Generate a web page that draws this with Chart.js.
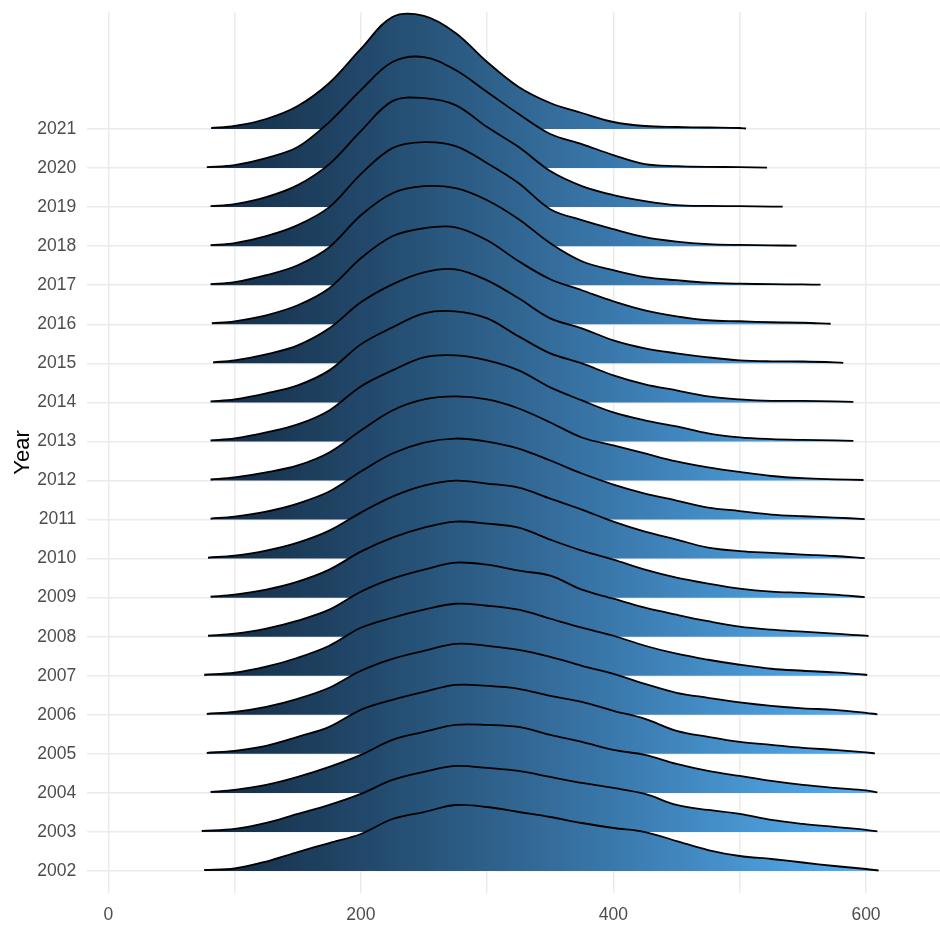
<!DOCTYPE html>
<html>
<head>
<meta charset="utf-8">
<script src="https://cdn.jsdelivr.net/npm/chart.js@4.4.1/dist/chart.umd.min.js"></script>
<style>
html, body { margin: 0; padding: 0; background: #ffffff; }
#wrap { width: 940px; height: 928px; }
</style>
</head>
<body>
<div id="wrap"><canvas id="c" width="940" height="928"></canvas></div>
<script>
// ---------------- data ----------------
const years = [2002,2003,2004,2005,2006,2007,2008,2009,2010,2011,2012,2013,2014,2015,2016,2017,2018,2019,2020,2021];
// common evaluation grid for the ridge heights
const xGrid = [100,125,150,175,200,225,250,275,300,325,350,375,400,425,450,475,500,525,550,575,600];
// first and last value of each year's distribution (2002 .. 2021)
const starts = [76,74,81,78,78,76,79,81,79,81,81,81,81,83,82,81,81,81,78,81.5];
const ends   = [610,609,609,607,609,601,602,599,599,599,598,590,590,582,572,564,545,534,521.6,505];
// ridge heights (relative density) at xGrid, per year
const d2002 = [2.5,9.5,19,28,37,52,59,66,64,59,54,48,43,39,30,21,15,12,8.5,5,2];
const d2003 = [3,9,18,27,38,52,60,66,64,61,55,49,44,38,27,22,18,12,8,5,2];
const d2004 = [3,8,16,26,38,53,61,68,68,66,58,51,43,38,29,22,17,12,8,5,2.5];
const d2005 = [3,8,17,27,44,54,62,69,68,65,58,52,43,35,23,17,12,9,6,4,1.5];
const d2006 = [3,8,16,27,44,56,64,71,69,65,58,49,41,31,22,17,12.5,9,6.5,5,2];
const d2007 = [3,9,18,30,48,58,66,72,70,66,57,48,40,30,22,16,11,7,5,3.3,1];
const d2008 = [3,8,16,27,45,58,67,74,72,66,61,47,38,29,22,15.5,10,7,5,3,1];
const d2009 = [3,8,16,28,46,60,70,76,74,70,58,47,38,28,20,14,9,6,4.7,3];
const d2010 = [3,8,16,28,46,62,73,78,75,71,60,49,37,27,19,11,7.5,5.7,4,2.6];
const d2011 = [3,8,16,28,48,66,77,81,78,71,59,46,35,26,19,12,8.5,5,3.3,2];
const d2012 = [3,8,15,28,50,70,81,84,81,72,58,43,35,27,19,13,8.5,4.5,2.3,1.2];
const d2013 = [3,9,17,31,55,71,84,86,81,71,54,41,29,21,15,8,4,2.3,1.5,1];
const d2014 = [3,9,17,32,58,75,89,91,84,66,49,39,27,18,12,6,3,1.5,1.5,1];
const d2015 = [3,9,18,35,61,79,91,94,83,65,45,35,23,15,10,6,3,2,1.8,1];
const d2016 = [3,9,19,36,66,88,96,97,84,63,45,34,23,14,8,4,3,2,1.5];
const d2017 = [3,10,20,38,70,92,99,97,85,66,42,24,15,8,5,2.5,1.5,1,0.8];
const d2018 = [3,10,21,39,72,98,104,100,83,63,37,26,17,9,4.5,2,1.2,0.8];
const d2019 = [3,10,22,43,76,106,109,102,80,60,36,21,12,6,2,1.2,1,0.5];
const d2020 = [3,10,21,46,78,106,111,98,76,54,34,24,13,4,2,1.2,1];
const d2021 = [3,10,23,46,80,112,113,96,67,42,26,16,7,3,2,1.5,1];
const densities = [d2002,d2003,d2004,d2005,d2006,d2007,d2008,d2009,d2010,d2011,d2012,d2013,d2014,d2015,d2016,d2017,d2018,d2019,d2020,d2021];
const tailDensity = [1, 0.5]; // density at the first / last value
const xTicks = [0,100,200,300,400,500,600];
const xLabelStep = 200;

// ---------------- styling ----------------
const ridgeScale = 1 / 39.05;        // rows per density unit
const lowColor = '#132B43', highColor = '#56B1F7';
const fillMin = Math.min(...starts), fillMax = Math.max(...ends);

function hexToRgb(h) { h = h.replace('#',''); return [0,2,4].map(i => parseInt(h.substr(i,2),16)); }
function toLin(c) { c /= 255; return c <= 0.04045 ? c / 12.92 : Math.pow((c + 0.055) / 1.055, 2.4); }
function toSrgb(c) { const v = c <= 0.0031308 ? 12.92 * c : 1.055 * Math.pow(c, 1/2.4) - 0.055; return Math.round(Math.max(0, Math.min(1, v)) * 255); }
function rgbToLab(rgb) {
  const [r,g,b] = rgb.map(toLin);
  const X = (0.4124*r + 0.3576*g + 0.1805*b) / 0.95047;
  const Y = (0.2126*r + 0.7152*g + 0.0722*b);
  const Z = (0.0193*r + 0.1192*g + 0.9505*b) / 1.08883;
  const f = t => t > 0.008856 ? Math.cbrt(t) : 7.787*t + 16/116;
  const fx = f(X), fy = f(Y), fz = f(Z);
  return [116*fy - 16, 500*(fx - fy), 200*(fy - fz)];
}
function labToRgb(lab) {
  const [L,a,b] = lab;
  const fy = (L + 16) / 116, fx = fy + a / 500, fz = fy - b / 200;
  const fi = t => t*t*t > 0.008856 ? t*t*t : (t - 16/116) / 7.787;
  const X = fi(fx) * 0.95047, Y = fi(fy), Z = fi(fz) * 1.08883;
  const r =  3.2406*X - 1.5372*Y - 0.4986*Z;
  const g = -0.9689*X + 1.8758*Y + 0.0415*Z;
  const bb = 0.0557*X - 0.2040*Y + 1.0570*Z;
  return 'rgb(' + toSrgb(r) + ',' + toSrgb(g) + ',' + toSrgb(bb) + ')';
}
const labLow = rgbToLab(hexToRgb(lowColor)), labHigh = rgbToLab(hexToRgb(highColor));
function mixLab(t) { return labToRgb(labLow.map((v,i) => v + (labHigh[i] - v) * t)); }

let gradCache = null, gradKey = '';
function ridgeFill(context) {
  const chart = context.chart;
  const area = chart.chartArea;
  if (!area) return mixLab(0.5);
  const xs = chart.scales.x;
  const x0 = xs.getPixelForValue(fillMin), x1 = xs.getPixelForValue(fillMax);
  const key = x0 + ':' + x1;
  if (gradCache && gradKey === key) return gradCache;
  const g = chart.ctx.createLinearGradient(x0, 0, x1, 0);
  const n = 24;
  for (let k = 0; k <= n; k++) g.addColorStop(k / n, mixLab(k / n));
  gradCache = g; gradKey = key;
  return g;
}

function ridgePoints(i) {
  const yr = years[i], s = starts[i], e = ends[i], d = densities[i];
  const pts = [{x: s, y: yr + tailDensity[0] * ridgeScale}];
  xGrid.forEach((gx, j) => {
    if (gx > s && gx < e && d[j] !== undefined) pts.push({x: gx, y: yr + d[j] * ridgeScale});
  });
  pts.push({x: e, y: yr + tailDensity[1] * ridgeScale});
  return pts;
}

const datasets = years.map((yr, i) => ({
  label: String(yr),
  data: ridgePoints(i),
  borderColor: '#000000',
  borderWidth: 1.8,
  borderJoinStyle: 'round',
  pointRadius: 0,
  pointHoverRadius: 0,
  tension: 0.35,
  fill: { value: yr },
  backgroundColor: ridgeFill
}));

const FONT = "'Liberation Sans', Arial, 'DejaVu Sans', sans-serif";
const gridColor = '#ebebeb';

new Chart(document.getElementById('c'), {
  type: 'line',
  data: { datasets },
  options: {
    responsive: false,
    animation: false,
    events: [],
    layout: { padding: { top: 12, right: 0, bottom: 0, left: 0 } },
    plugins: { legend: { display: false }, tooltip: { enabled: false }, filler: { propagate: false } },
    scales: {
      x: {
        type: 'linear',
        min: -16.6,
        max: 658.6,
        afterBuildTicks: axis => { axis.ticks = xTicks.map(v => ({ value: v })); },
        afterFit: axis => { axis.height = 35; axis.paddingLeft = 0; axis.paddingRight = 0; },
        ticks: {
          callback: v => (v % xLabelStep === 0 ? String(v) : ''),
          color: '#4d4d4d',
          font: { family: FONT, size: 17.5 },
          padding: 11.5,
          maxRotation: 0,
          autoSkip: false
        },
        grid: { color: gridColor, lineWidth: 1.5, drawTicks: false },
        border: { display: false }
      },
      y: {
        type: 'linear',
        min: 2001.437,
        max: 2023.996,
        afterBuildTicks: axis => { axis.ticks = years.map(v => ({ value: v })); },
        afterFit: axis => { axis.width = 87.3; axis.paddingTop = 0; axis.paddingBottom = 0; },
        ticks: {
          callback: v => String(v),
          color: '#4d4d4d',
          font: { family: FONT, size: 17.5 },
          padding: 11,
          autoSkip: false
        },
        grid: { color: gridColor, lineWidth: 1.5, drawTicks: false },
        border: { display: false },
        title: {
          display: true,
          text: 'Year',
          color: '#000000',
          font: { family: FONT, size: 22 },
          padding: { top: 10, bottom: 0 }
        }
      }
    }
  }
});
</script>
</body>
</html>
